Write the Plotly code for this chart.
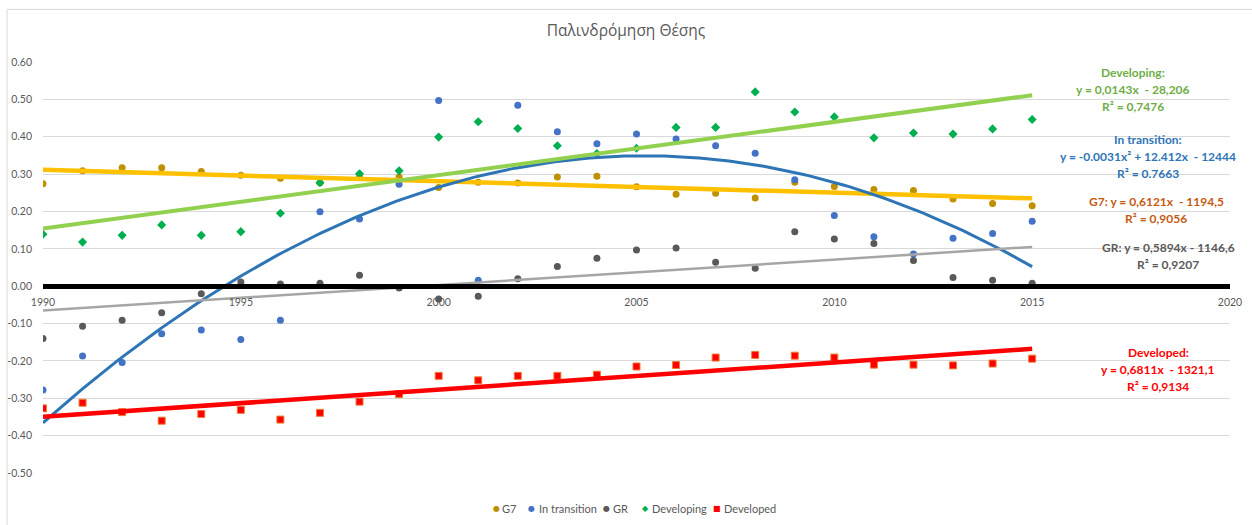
import numpy as np
import plotly.graph_objects as go

years = list(range(1990, 2016))

g7 = [0.274, 0.309, 0.317, 0.317, 0.307, 0.297, 0.289, 0.277, 0.295, 0.292,
      0.264, 0.278, 0.276, 0.292, 0.294, 0.266, 0.246, 0.249, 0.236, 0.278,
      0.267, 0.259, 0.256, 0.233, 0.221, 0.215]

in_transition = [-0.278, -0.187, -0.204, -0.127, -0.117, -0.143, -0.091, 0.199, 0.180, 0.273,
                 0.497, 0.016, 0.484, 0.413, 0.381, 0.407, 0.394, 0.376, 0.356, 0.285,
                 0.189, 0.132, 0.086, 0.128, 0.141, 0.174]

gr = [-0.140, -0.107, -0.091, -0.071, -0.020, 0.011, 0.006, 0.008, 0.029, -0.005,
      -0.034, -0.027, 0.020, 0.053, 0.075, 0.097, 0.102, 0.064, 0.048, 0.146,
      0.126, 0.114, 0.069, 0.023, 0.016, 0.008]

developing = [0.139, 0.118, 0.136, 0.164, 0.136, 0.146, 0.195, 0.277, 0.301, 0.309,
              0.399, 0.440, 0.422, 0.376, 0.355, 0.369, 0.425, 0.425, 0.520, 0.466,
              0.453, 0.397, 0.410, 0.407, 0.421, 0.446]

developed = [-0.327, -0.312, -0.337, -0.360, -0.342, -0.331, -0.357, -0.339, -0.309, -0.289,
             -0.240, -0.252, -0.240, -0.240, -0.237, -0.215, -0.211, -0.191, -0.184, -0.186,
             -0.191, -0.210, -0.210, -0.212, -0.207, -0.194]

x_ticks = [1990, 1995, 2000, 2005, 2010, 2015, 2020]
y_ticks = [0.6, 0.5, 0.4, 0.3, 0.2, 0.1, 0.0, -0.1, -0.2, -0.3, -0.4, -0.5]

title_text = "Παλινδρόμηση Θέσης"

FONT = "Lato, 'Open Sans', sans-serif"
GREY = "#595959"

series = [
    ("G7", g7, dict(symbol="circle", size=7, color="#BF9000")),
    ("In transition", in_transition, dict(symbol="circle", size=7, color="#4472C4")),
    ("GR", gr, dict(symbol="circle", size=7, color="#595959")),
    ("Developing", developing, dict(symbol="diamond", size=7, color="#00B050")),
    ("Developed", developed, dict(symbol="square", size=7, color="#FF0000",
                                  line=dict(color="#ED7D31", width=1))),
]

# trendline specs: (series values, polynomial degree, colour, width)
trends = [
    (g7, 1, "#FFC000", 4.5),
    (in_transition, 2, "#2E75B6", 3),
    (gr, 1, "#A6A6A6", 2.5),
    (developing, 1, "#92D050", 4),
    (developed, 1, "#FF0000", 4.5),
]

fig = go.Figure()

for name, vals, mk in series:
    fig.add_trace(go.Scatter(x=years, y=vals, mode="markers", name=name, marker=mk,
                             showlegend=False))

xs = np.array(years, dtype=float)
xfine = np.linspace(xs.min(), xs.max(), 200)
for vals, deg, col, w in trends:
    coef = np.polyfit(xs - 2000, np.array(vals), deg)
    yfit = np.polyval(coef, xfine - 2000)
    fig.add_trace(go.Scatter(x=xfine, y=yfit, mode="lines", showlegend=False,
                             hoverinfo="skip", line=dict(color=col, width=w)))

def yx(py):
    return (286.7 - py) / 375.0

def xx(px):
    return 1990 + (px - 43) / 39.7

labels = [
    ("Developing:", 1137, 72, "#70AD47", None),
    ("y = 0,0143x  - 28,206", 1137, 89, "#70AD47", None),
    ("R² = 0,7476", 1137, 106, "#70AD47", None),
    ("In transition:", 1152, 139, "#2E75B6", None),
    ("y = -0.0031x² + 12.412x  - 12444", 1152, 157, "#2E75B6", None),
    ("R² = 0.7663", 1152, 174, "#2E75B6", None),
    ("G7: y = 0,6121x  - 1194,5", 1160, 202, "#C55A11", None),
    ("R² = 0,9056", 1160, 219, "#C55A11", None),
    ("GR: y = 0,5894x - 1146,6", 1172, 248, "#595959", None),
    ("R² = 0,9207", 1172, 265, "#595959", None),
    ("Developed:", 1162, 353, "#FF0000", "white"),
    ("y = 0,6811x  - 1321,1", 1162, 370, "#FF0000", "white"),
    ("R² = 0,9134", 1162, 387, "#FF0000", "white"),
]
for txt, px, py, col, bg in labels:
    fig.add_annotation(x=xx(px), y=yx(py), text="<b>%s</b>" % txt, showarrow=False,
                       xanchor="center", yanchor="middle",
                       font=dict(family=FONT, size=12, color=col),
                       bgcolor=bg if bg else "rgba(0,0,0,0)", borderpad=0)

# compact legend (symbol glyph + label), as in the original
legend_items = [
    ("●", "#BF9000", "G7", 496, 500),
    ("●", "#4472C4", "In transition", 531, 537),
    ("●", "#595959", "GR", 606, 611),
    ("◆", "#00B050", "Developing", 646, 650),
    ("■", "#FF0000", "Developed", 717, 722),
]
LEG_Y = (473.3 - 509) / 411.3
for glyph, col, name, gx, tx in legend_items:
    fig.add_annotation(xref="paper", yref="paper", x=(gx - 43) / 1187, y=LEG_Y,
                       text=glyph, showarrow=False, xanchor="center", yanchor="middle",
                       font=dict(family="DejaVu Sans", size=8, color=col))
    fig.add_annotation(xref="paper", yref="paper", x=(tx - 43) / 1187, y=LEG_Y,
                       text=name, showarrow=False, xanchor="left", yanchor="middle",
                       font=dict(family=FONT, size=11, color=GREY))

# chart-area border (left and top edges visible)
fig.add_shape(type="line", xref="paper", yref="paper", x0=-0.0303, x1=-0.0303,
              y0=-0.13, y1=1.128, line=dict(color="#D9D9D9", width=1))
fig.add_shape(type="line", xref="paper", yref="paper", x0=-0.0303, x1=1.02,
              y0=1.128, y1=1.128, line=dict(color="#D9D9D9", width=1))

fig.update_layout(
    width=1252, height=525,
    margin=dict(l=43, r=22, t=62, b=52, autoexpand=False),
    paper_bgcolor="white", plot_bgcolor="white",
    title=dict(text=title_text, x=0.5, xanchor="center", y=1 - 31 / 525, yanchor="middle",
               font=dict(family="'Open Sans', sans-serif", size=15.5, color=GREY)),
    showlegend=False,
    xaxis=dict(range=[1990, 2020], tickvals=x_ticks, ticktext=[str(v) for v in x_ticks],
               showgrid=False, zeroline=False, showline=True, linecolor="black", linewidth=5,
               anchor="free", position=0.5 / 1.1, ticks="", automargin=False,
               ticklabelstandoff=4,
               tickfont=dict(family=FONT, size=10.5, color=GREY)),
    yaxis=dict(range=[-0.5, 0.6], tickvals=y_ticks, ticktext=["%.2f" % v for v in y_ticks],
               showgrid=True, gridcolor="#D9D9D9", gridwidth=1, zeroline=False,
               showline=False, ticks="", ticklabelstandoff=10, automargin=False,
               tickfont=dict(family=FONT, size=10.5, color=GREY)),
)

fig.write_html("out.html", config={"displayModeBar": False},
               post_script="document.body.style.margin='0';")
